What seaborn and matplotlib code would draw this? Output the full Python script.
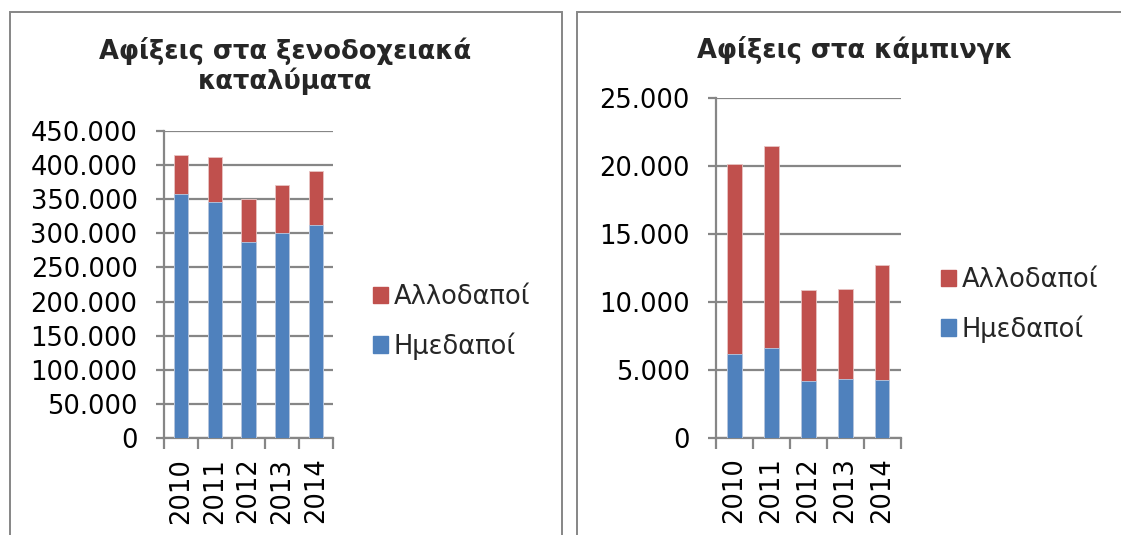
import matplotlib
matplotlib.use("Agg")
import matplotlib.pyplot as plt
import matplotlib.ticker as mticker
from matplotlib.patches import Rectangle, Patch
import seaborn as sns
import pandas as pd

years = ["2010", "2011", "2012", "2013", "2014"]

hotel_domestic = [357000, 346000, 288000, 301000, 312000]
hotel_foreign = [58000, 65000, 62000, 69000, 79000]

camping_domestic = [6140, 6580, 4150, 4320, 4225]
camping_foreign = [14010, 14890, 6700, 6600, 8485]

label_foreign = "Αλλοδαποί"
label_domestic = "Ημεδαποί"
title_hotel = "Αφίξεις στα ξενοδοχειακά\nκαταλύματα"
title_camping = "Αφίξεις στα κάμπινγκ"

BLUE = "#4F81BD"
RED = "#C0504D"
GRID = "#868686"

sns.set_theme(style="white")
plt.rcParams["font.family"] = ["DejaVu Sans"]

W, H = 1121, 535
fig = plt.figure(figsize=(W / 100, H / 100), dpi=100)


def fig_rect(x0, y_top, x1, y_bottom):
    return [x0 / W, 1 - y_bottom / H, (x1 - x0) / W, (y_bottom - y_top) / H]


def thousands(v, pos):
    return f"{int(round(v)):,}".replace(",", ".")


def draw_panel(ax, domestic, foreign, ymax, step, width):
    df = pd.DataFrame({"year": years, "domestic": domestic, "foreign": foreign})
    df["total"] = df["domestic"] + df["foreign"]
    sns.barplot(data=df, x="year", y="total", color=RED, width=width,
                saturation=1, edgecolor="#E8C4C3", linewidth=0.6, ax=ax, zorder=3)
    sns.barplot(data=df, x="year", y="domestic", color=BLUE, width=width,
                saturation=1, edgecolor="#B7CBE3", linewidth=0.6, ax=ax, zorder=4)
    ax.set_xlim(-0.5, len(years) - 0.5)
    ax.set_ylim(0, ymax)
    ax.yaxis.set_major_locator(mticker.MultipleLocator(step))
    ax.yaxis.set_major_formatter(mticker.FuncFormatter(thousands))
    ax.set_xlabel("")
    ax.set_ylabel("")
    ax.grid(axis="y", color=GRID, linewidth=1.6, zorder=0)
    ax.set_axisbelow(True)
    for side in ("top", "right"):
        ax.spines[side].set_visible(False)
    for side in ("left", "bottom"):
        ax.spines[side].set_color(GRID)
        ax.spines[side].set_linewidth(1.6)
    ax.tick_params(axis="y", which="major", length=6, width=1.6, color=GRID,
                   labelsize=18.5, pad=13, left=True)
    # category separators on the x axis
    ax.set_xticks([i for i in range(len(years))])
    ax.set_xticklabels(years, rotation=90, fontsize=18.5)
    ax.tick_params(axis="x", which="major", length=0, pad=14)
    ax.set_xticks([i - 0.5 for i in range(len(years) + 1)], minor=True)
    ax.tick_params(axis="x", which="minor", length=8, width=1.6, color=GRID,
                   bottom=True)
    for lab in ax.get_yticklabels() + ax.get_xticklabels():
        lab.set_color("black")


ax1 = fig.add_axes(fig_rect(164, 130.8, 333, 438.3))
draw_panel(ax1, hotel_domestic, hotel_foreign, 450000, 50000, 0.42)

ax2 = fig.add_axes(fig_rect(716, 98, 900.5, 437.7))
draw_panel(ax2, camping_domestic, camping_foreign, 25000, 5000, 0.40)

# chart frames
for x0, x1 in ((10, 562), (577, 1130)):
    fig.add_artist(Rectangle((x0 / W, -0.05), (x1 - x0) / W, 1.05 - 12 / H,
                             transform=fig.transFigure, fill=False,
                             edgecolor=GRID, linewidth=1.4))

fig.text(285 / W, 1 - 66 / H, title_hotel, ha="center", va="center",
         fontsize=18.5, fontweight="bold", linespacing=1.15)
fig.text(855 / W, 1 - 50 / H, title_camping, ha="center", va="center",
         fontsize=18.5, fontweight="bold")

handles = [Patch(facecolor=RED, edgecolor=RED, label=label_foreign),
           Patch(facecolor=BLUE, edgecolor=BLUE, label=label_domestic)]
for x, y in ((373, 322), (941, 305)):
    fig.legend(handles=handles, loc="center left",
               bbox_to_anchor=(x / W, 1 - y / H), frameon=False, fontsize=18.5,
               handlelength=0.6, handleheight=0.6, handletextpad=0.2,
               labelspacing=0.85, borderaxespad=0, borderpad=0)

fig.savefig("out.png", dpi=100)
